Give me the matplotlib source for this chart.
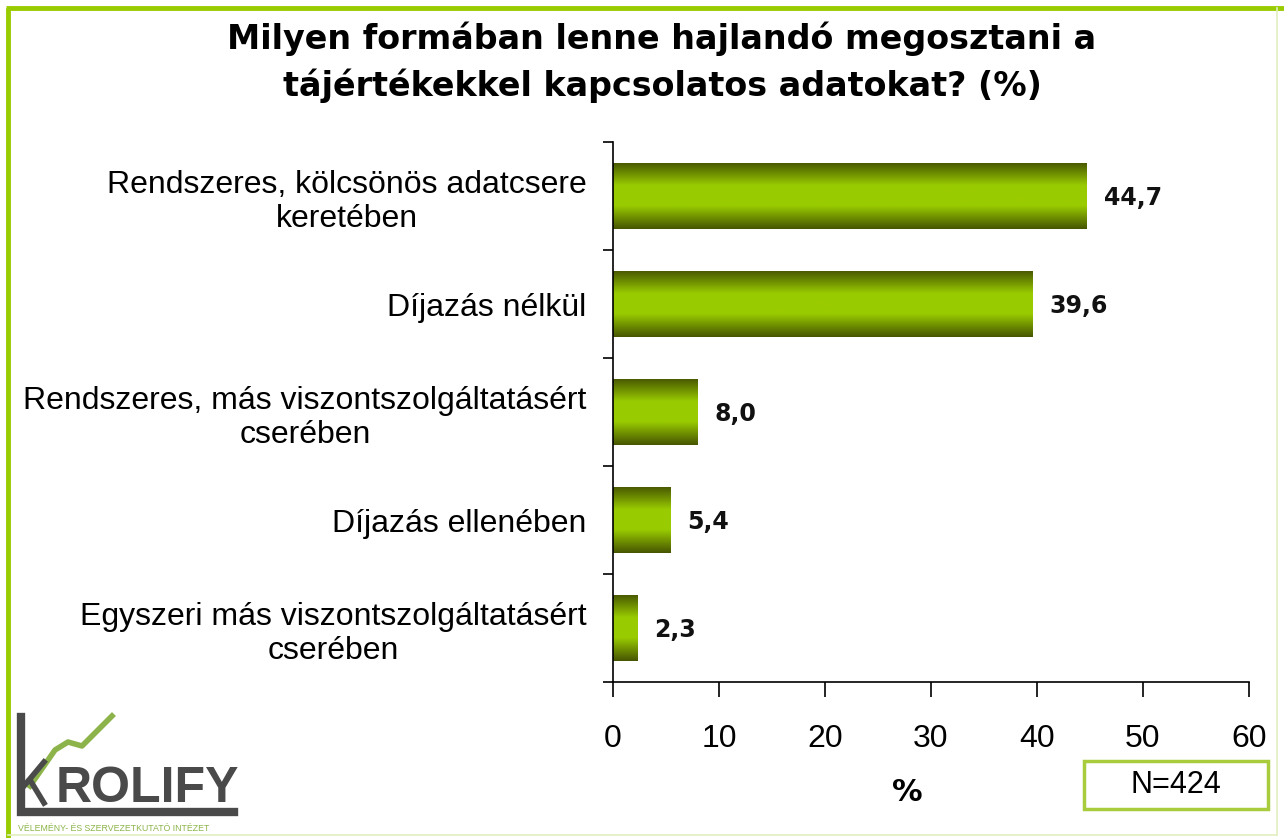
import matplotlib.pyplot as plt
import numpy as np
from matplotlib.colors import LinearSegmentedColormap
from matplotlib.lines import Line2D
from matplotlib.patches import Rectangle

# Adatok
categories = [
    "Rendszeres, kölcsönös adatcsere\nkeretében",
    "Díjazás nélkül",
    "Rendszeres, más viszontszolgáltatásért\ncserében",
    "Díjazás ellenében",
    "Egyszeri más viszontszolgáltatásért\ncserében",
]
values = [44.7, 39.6, 8.0, 5.4, 2.3]
xticks = [0, 10, 20, 30, 40, 50, 60]

title = "Milyen formában lenne hajlandó megosztani a\ntájértékekkel kapcsolatos adatokat? (%)"
green = "#99cc00"

W, H = 1284, 838
fig = plt.figure(figsize=(W / 100, H / 100), dpi=100)
fig.patch.set_facecolor("white")

ax = fig.add_axes([613 / W, 1 - 682 / H, 636 / W, 540 / H])

# Színátmenetes oszlopok
cmap = LinearSegmentedColormap.from_list(
    "olive", [(0, "#465400"), (0.35, "#99cc00"), (0.65, "#99cc00"), (1, "#465400")])
grad = np.linspace(0, 1, 256).reshape(-1, 1)

ypos = np.arange(len(values))
bar_h = 0.62
bars = ax.barh(ypos, values, height=bar_h, color="none", edgecolor="none", zorder=2)
for b, v in zip(bars, values):
    y0 = b.get_y()
    im = ax.imshow(grad, extent=[0, v, y0 + bar_h, y0], aspect="auto",
                   cmap=cmap, zorder=2, interpolation="bicubic")
    im.set_clip_path(b)
    ax.text(v + 1.6, b.get_y() + bar_h / 2 + 0.02, f"{v:.1f}".replace(".", ","),
            va="center", ha="left", fontsize=17, fontweight="bold",
            family="DejaVu Sans", color="#111111")

ax.set_xlim(0, 60)
ax.set_ylim(len(values) - 0.5, -0.5)

for s in ["top", "right"]:
    ax.spines[s].set_visible(False)
ax.spines["left"].set_linewidth(1.2)
ax.spines["bottom"].set_linewidth(1.2)

ax.set_xticks(xticks)
ax.set_xticklabels([str(t) for t in xticks], fontsize=23, family="Liberation Sans")
ax.tick_params(axis="x", direction="out", length=11, width=1.2, pad=19)

# y tengely: osztásjelek a kategóriák határán, feliratok középen
ax.set_yticks(np.arange(len(values) + 1) - 0.5)
ax.set_yticklabels([])
ax.tick_params(axis="y", which="major", direction="out", length=7, width=1.2)
ax.set_yticks(ypos, minor=True)
ax.set_yticklabels(categories, minor=True, fontsize=23, family="Liberation Sans",
                   multialignment="center")
ax.tick_params(axis="y", which="minor", length=0, pad=19)

fig.text(907 / W, 1 - 792 / H, "%", ha="center", va="center", fontsize=22,
         fontweight="bold", family="DejaVu Sans")

fig.text(662 / W, 1 - 62 / H, title, ha="center", va="center", fontsize=24,
         fontweight="bold", family="DejaVu Sans", linespacing=1.45)

# N doboz
fig.patches.append(Rectangle((1084 / W, 1 - 809 / H), 184 / W, 48 / H,
                             transform=fig.transFigure, facecolor="white",
                             edgecolor="#a8cc3c", linewidth=2.5))
fig.text(1176 / W, 1 - 785 / H, "N=424", ha="center", va="center",
         fontsize=22, family="Liberation Sans")

# keret
fig.add_artist(Line2D([8 / W, 8 / W], [0, 1 - 8 / H], transform=fig.transFigure,
                      color=green, lw=3.5, solid_capstyle="butt"))
fig.add_artist(Line2D([6 / W, 1], [1 - 8 / H, 1 - 8 / H], transform=fig.transFigure,
                      color=green, lw=3.5, solid_capstyle="butt"))
fig.add_artist(Line2D([1 - 7 / W, 1 - 7 / W], [3 / H, 1 - 8 / H], transform=fig.transFigure,
                      color="#e2efc0", lw=1.2))
fig.add_artist(Line2D([8 / W, 1 - 7 / W], [3 / H, 3 / H], transform=fig.transFigure,
                      color="#e2efc0", lw=1.2))

# logó
def px(x, y):
    return x / W, 1 - y / H

dark = "#4a4a4a"
lx, ly = zip(*[px(21, 717), px(21, 812), px(234, 812)])
fig.add_artist(Line2D(lx, ly, transform=fig.transFigure, color=dark, lw=6,
                      solid_joinstyle="miter"))
gx, gy = zip(*[px(30, 786), px(55, 750), px(68, 742), px(82, 746), px(112, 716)])
fig.add_artist(Line2D(gx, gy, transform=fig.transFigure, color="#8cb44a", lw=4))
kx, ky = zip(*[px(24, 786), px(44, 762)])
fig.add_artist(Line2D(kx, ky, transform=fig.transFigure, color=dark, lw=4))
kx, ky = zip(*[px(30, 780), px(44, 803)])
fig.add_artist(Line2D(kx, ky, transform=fig.transFigure, color=dark, lw=4))
fig.text(56 / W, 1 - 802 / H, "ROLIFY", ha="left", va="baseline", fontsize=36,
         fontweight="bold", family="Liberation Sans", color=dark)
fig.text(18 / W, 1 - 828 / H, "VÉLEMÉNY- ÉS SZERVEZETKUTATÓ INTÉZET", ha="left",
         va="center", fontsize=6.3, family="Liberation Sans", color="#8cb44a")

fig.savefig("out.png", dpi=100)
